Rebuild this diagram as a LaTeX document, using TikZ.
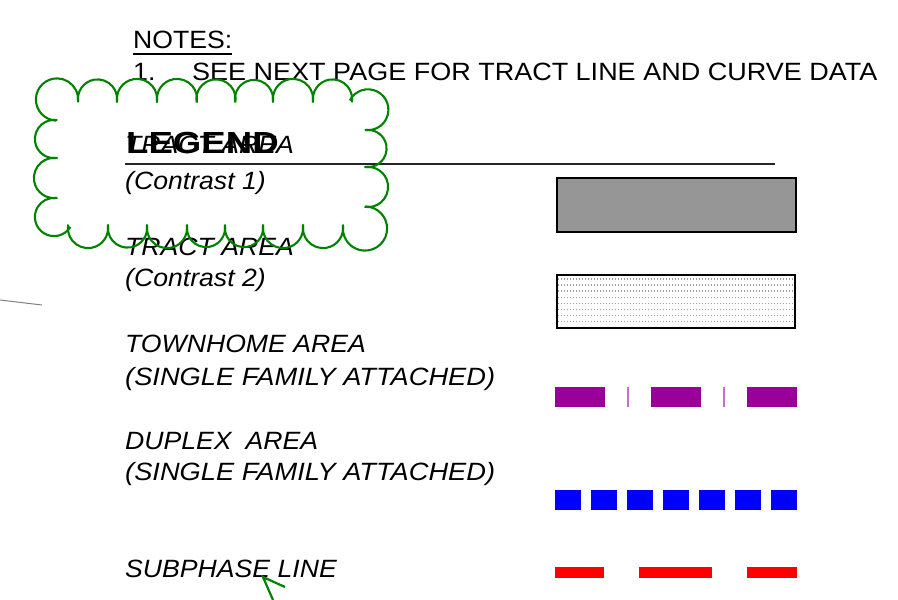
\documentclass[tikz,border=0pt]{standalone}
\usepackage{fontspec}
\setmainfont{Liberation Sans}
\definecolor{cloudgreen}{RGB}{0,130,0}
\definecolor{areagray}{RGB}{150,150,150}
\definecolor{townpurple}{RGB}{153,0,153}
\definecolor{ticklilac}{RGB}{200,110,200}
\definecolor{dupblue}{RGB}{0,0,255}
\definecolor{subred}{RGB}{255,0,0}
\newcommand\wtxt[2][1.065]{\scalebox{#1}[1]{#2}}
\newcommand\cloudarc[5]{\draw[cloudline] (#1,#2) ++(#4:#3pt) arc[start angle=#4, end angle=#5, radius=#3pt];}
\tikzset{
  cloudline/.style={draw=cloudgreen, line width=2.1pt},
  lbl/.style={anchor=base west, inner sep=0pt, font=\fontsize{25}{30}\selectfont\itshape},
  note/.style={anchor=base west, inner sep=0pt, font=\fontsize{25}{30}\selectfont},
  legendtitle/.style={anchor=base west, inner sep=0pt, font=\fontsize{30.5}{36}\selectfont\bfseries},
  swatch/.style={draw=black, line width=1.5pt},
}
\begin{document}
\begin{tikzpicture}[x=1pt,y=-1pt]
\useasboundingbox (0,0) rectangle (898,600);
% notes
\node[note] (notes) at (133,48) {\wtxt{NOTES:}};
\draw[line width=1.4pt] (133,54) -- (232,54);
\node[note] (n1) at (133,80) {\wtxt{1.}};
\node[note] (n1t) at (192,80) {\wtxt[1.08]{SEE NEXT PAGE FOR TRACT LINE AND CURVE DATA}};
% legend title
\node[legendtitle] (legend) at (126,153) {\scalebox{1.2}[1]{LEGEND}};
\draw[line width=1.2pt, black!85] (125,164) -- (775,164);
% labels
\node[lbl] (t1) at (125,153) {\wtxt{TRACT AREA}};
\node[lbl] (c1) at (125,189) {\wtxt{(Contrast 1)}};
\node[lbl] (t2) at (125,255) {\wtxt{TRACT AREA}};
\node[lbl] (c2) at (125,286) {\wtxt{(Contrast 2)}};
\node[lbl] (th) at (125,352) {\wtxt{TOWNHOME AREA}};
\node[lbl] (sf1) at (125,385) {\wtxt[1.09]{(SINGLE FAMILY ATTACHED)}};
\node[lbl] (dp) at (125,449) {\wtxt{DUPLEX\hspace{13pt}AREA}};
\node[lbl] (sf2) at (125,480) {\wtxt[1.09]{(SINGLE FAMILY ATTACHED)}};
\node[lbl] (sp) at (125,577) {\wtxt{SUBPHASE LINE}};
% swatch 1
\fill[areagray] (557,178) rectangle (796,232);
\draw[swatch] (557,178) rectangle (796,232);
% swatch 2 dotted
\begin{scope}
\clip (557,275) rectangle (795,328);
\foreach \yy in {279,285,291,297.3,303.3,309.3,315.3,321.5}
  \draw[gray!75, line width=1.3pt, dash pattern=on 1.4pt off 1.6pt] (558,\yy) -- (795,\yy);
\end{scope}
\draw[swatch] (557,275) rectangle (795,328);
% townhome line
\foreach \xx in {555,651,747}
  \fill[townpurple] (\xx,387) rectangle ++(50,20);
\foreach \xx in {628,724}
  \draw[ticklilac, line width=1.2pt] (\xx,387) -- (\xx,407);
% duplex line
\foreach \xx in {555,591,627,663,699,735,771}
  \fill[dupblue] (\xx,490) rectangle ++(26,20);
% subphase line
\fill[subred] (555,567) rectangle (604,578);
\fill[subred] (639,567) rectangle (712,578);
\fill[subred] (747,567) rectangle (797,578);
% stray gray line
\draw[gray, line width=1pt] (0,300) -- (42,305);
% green arrow head
\coordinate (tip) at (263,577);
\draw[cloudline, line width=2.2pt] (285,587) -- (tip) -- (273,600);
% cloud: top edge
\cloudarc{97.5}{99}{19.6}{190}{-10}
\cloudarc{137}{99}{20.1}{190}{-10}
\cloudarc{177}{99}{20.1}{190}{-10}
\cloudarc{216}{99}{19.6}{190}{-10}
\cloudarc{254}{99}{19.1}{190}{-10}
\cloudarc{293}{99}{20.1}{190}{-10}
\cloudarc{332.5}{99}{19.6}{190}{-10}
% corners
\cloudarc{368}{109.7}{20.4}{153}{-96}
\cloudarc{365}{228.5}{22.1}{89}{-188}
\cloudarc{54}{217}{19.1}{-31}{-276}
\cloudarc{57}{99.5}{21.1}{268}{-5}
% right edge
\cloudarc{368}{148.5}{18.6}{100}{-100}
\cloudarc{368}{187}{20.1}{100}{-100}
% bottom edge
\cloudarc{323}{228}{20.1}{10}{-190}
\cloudarc{283}{228}{20.1}{10}{-190}
\cloudarc{244}{228}{19.1}{10}{-190}
\cloudarc{206}{228}{19.1}{10}{-190}
\cloudarc{167}{228}{20.1}{10}{-190}
\cloudarc{127.5}{228}{19.6}{10}{-190}
\cloudarc{88}{228}{20.1}{10}{-190}
% left edge
\cloudarc{54}{178}{20.1}{280}{80}
\cloudarc{54}{139}{19.1}{280}{80}
\end{tikzpicture}
\end{document}
